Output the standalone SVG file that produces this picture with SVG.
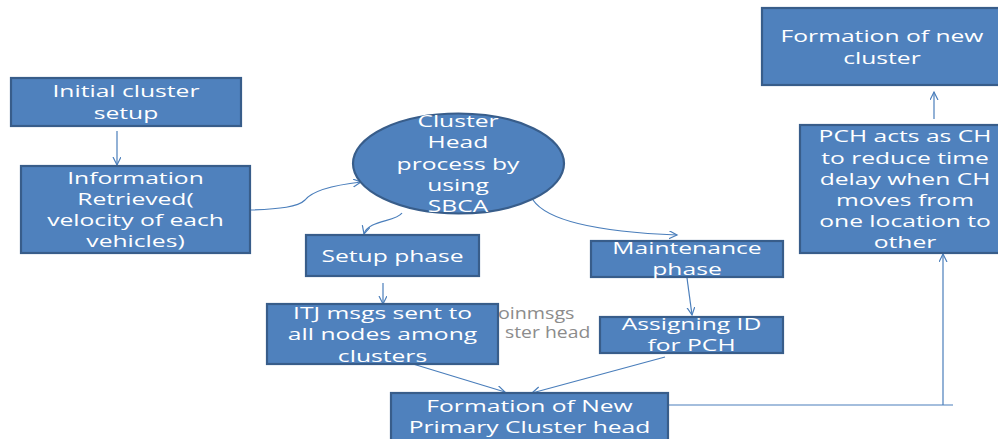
<svg xmlns="http://www.w3.org/2000/svg" width="998" height="439" viewBox="0 0 998 439">
<defs>
<style>
.box{fill:#4F81BD;stroke:#385D8A;stroke-width:2.2}
.t{font-family:"Open Sans","DejaVu Sans",sans-serif;font-size:17px;fill:#ffffff;text-anchor:middle}
.g{font-family:"Open Sans","DejaVu Sans",sans-serif;font-size:16px;fill:#8c8c8c}
.c{fill:none;stroke:#4A7EBB;stroke-width:1.2}
</style>
<marker id="ah" markerWidth="10" markerHeight="10" refX="8" refY="4" orient="auto" markerUnits="userSpaceOnUse">
<path d="M0,0 L8,4 L0,8" fill="none" stroke="#4A7EBB" stroke-width="1.2"/>
</marker>
</defs>
<rect width="998" height="439" fill="#ffffff"/>

<g id="gray-label">
<text class="g" transform="translate(498 0) scale(1.23 1)" x="0" y="319">oinmsgs</text>
<text class="g" transform="translate(505 0) scale(1.21 1)" x="0" y="338">ster head</text>
</g>

<g id="connectors">
<path class="c" d="M117,131 L117,165" marker-end="url(#ah)"/>
<path class="c" d="M251,210 C280,209 298,207 305,200 C312,191 335,185 361,182" marker-end="url(#ah)"/>
<path class="c" d="M402,213 C396,222 368,220 364,234" marker-end="url(#ah)"/>
<path class="c" d="M533,200 C548,222 600,232 677,235" marker-end="url(#ah)"/>
<path class="c" d="M687,278 L692,315" marker-end="url(#ah)"/>
<path class="c" d="M383,283 L383,304" marker-end="url(#ah)"/>
<path class="c" d="M413,364 L505,392" marker-end="url(#ah)"/>
<path class="c" d="M665,357 L532,393" marker-end="url(#ah)"/>
<path class="c" d="M668,405 L953,405"/>
<path class="c" d="M943,405 L943,254" marker-end="url(#ah)"/>
<path class="c" d="M934,119 L934,92" marker-end="url(#ah)"/>
</g>

<g id="initial-setup">
<rect class="box" x="11" y="78" width="230" height="48"/>
<text class="t" transform="translate(126 0) scale(1.45 1)"><tspan x="0" y="97">Initial cluster</tspan><tspan x="0" y="119">setup</tspan></text>
</g>

<g id="info-retrieved">
<rect class="box" x="21" y="166" width="229" height="87"/>
<text class="t" transform="translate(135.5 0) scale(1.45 1)"><tspan x="0" y="184">Information</tspan><tspan x="0" y="205">Retrieved(</tspan><tspan x="0" y="226">velocity of each</tspan><tspan x="0" y="247">vehicles)</tspan></text>
</g>

<g id="cluster-head">
<ellipse class="box" cx="458.5" cy="163.5" rx="105.5" ry="50"/>
<text class="t" transform="translate(458 0) scale(1.45 1)"><tspan x="0" y="127">Cluster</tspan><tspan x="0" y="148">Head</tspan><tspan x="0" y="170">process by</tspan><tspan x="0" y="191">using</tspan><tspan x="0" y="212">SBCA</tspan></text>
</g>

<g id="setup-phase">
<rect class="box" x="306" y="235" width="173" height="41"/>
<text class="t" transform="translate(392.5 0) scale(1.45 1)"><tspan x="0" y="262">Setup phase</tspan></text>
</g>

<g id="maintenance-phase">
<rect class="box" x="591" y="241" width="192" height="36"/>
<text class="t" transform="translate(687 0) scale(1.45 1)"><tspan x="0" y="254">Maintenance</tspan><tspan x="0" y="275">phase</tspan></text>
</g>

<g id="itj-msgs">
<rect class="box" x="267" y="304" width="231" height="60"/>
<text class="t" transform="translate(382.5 0) scale(1.45 1)"><tspan x="0" y="319">ITJ msgs sent to</tspan><tspan x="0" y="340.5">all nodes among</tspan><tspan x="0" y="362">clusters</tspan></text>
</g>

<g id="assigning-id">
<rect class="box" x="600" y="317" width="183" height="36"/>
<text class="t" transform="translate(691.5 0) scale(1.45 1)"><tspan x="0" y="330">Assigning ID</tspan><tspan x="0" y="351">for PCH</tspan></text>
</g>

<g id="new-primary-ch">
<rect class="box" x="391" y="393" width="277" height="60"/>
<text class="t" transform="translate(529.5 0) scale(1.45 1)"><tspan x="0" y="412.5">Formation of New</tspan><tspan x="0" y="433.5">Primary Cluster head</tspan></text>
</g>

<g id="pch-acts">
<rect class="box" x="800" y="125" width="210" height="128"/>
<text class="t" transform="translate(905 0) scale(1.45 1)"><tspan x="0" y="142.5">PCH acts as CH</tspan><tspan x="0" y="164">to reduce time</tspan><tspan x="0" y="185">delay when CH</tspan><tspan x="0" y="206">moves from</tspan><tspan x="0" y="227">one location to</tspan><tspan x="0" y="248">other</tspan></text>
</g>

<g id="new-cluster">
<rect class="box" x="762" y="8" width="240" height="77"/>
<text class="t" transform="translate(882 0) scale(1.45 1)"><tspan x="0" y="42.5">Formation of new</tspan><tspan x="0" y="64">cluster</tspan></text>
</g>
</svg>
